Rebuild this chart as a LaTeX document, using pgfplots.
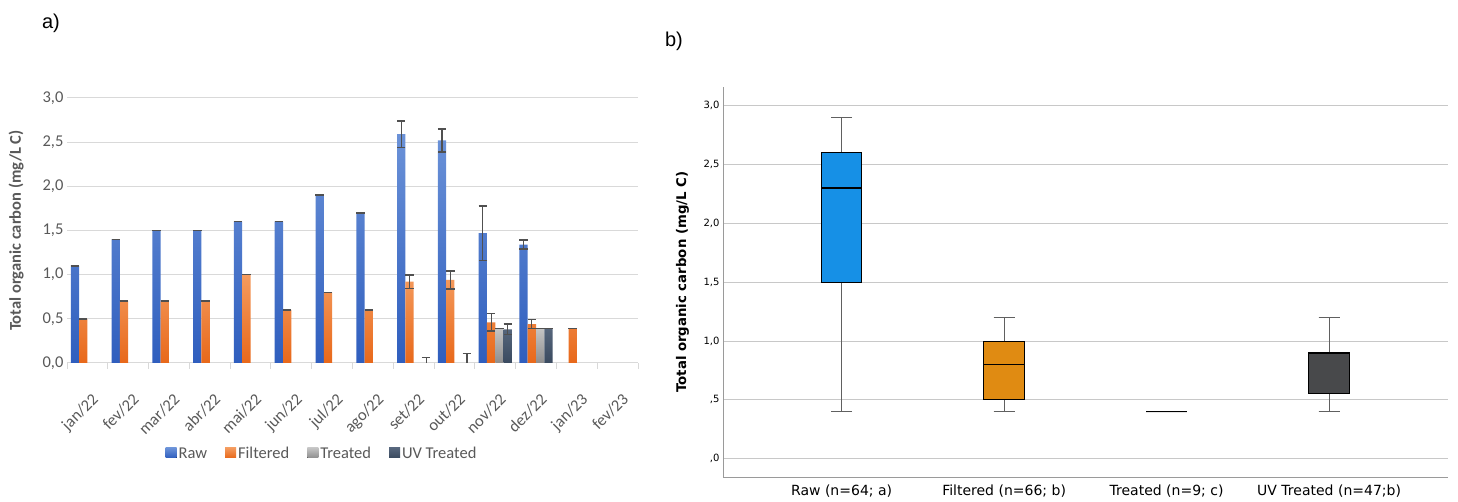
\documentclass[border=0pt]{standalone}
\usepackage{fontspec}
\setmainfont{Liberation Sans}
\newfontfamily\carlito{Carlito}
\newfontfamily\dejavu{DejaVu Sans}
\usepackage{pgfplots}
\pgfplotsset{compat=1.18}
\usepgfplotslibrary{statistics}
\definecolor{rawT}{HTML}{6B92D8}
\definecolor{rawB}{HTML}{2F5EBE}
\definecolor{filT}{HTML}{F49B5E}
\definecolor{filB}{HTML}{E8681A}
\definecolor{treT}{HTML}{C4C4C4}
\definecolor{treB}{HTML}{8E8E8E}
\definecolor{uvT}{HTML}{56667C}
\definecolor{uvB}{HTML}{3A4A5F}
\definecolor{gridc}{HTML}{D9D9D9}
\definecolor{tickc}{HTML}{595959}
\definecolor{errc}{HTML}{505050}
\definecolor{gridr}{HTML}{C8C8C8}
\definecolor{axr}{HTML}{9A9A9A}
\definecolor{rawbox}{HTML}{1690E6}
\definecolor{filbox}{HTML}{E08B12}
\definecolor{uvbox}{HTML}{48494B}
\definecolor{whisk}{HTML}{606060}
\begin{document}
\begin{tikzpicture}
\useasboundingbox (0pt,0pt) rectangle (1458pt,502pt);
\node[font=\fontsize{20}{24}\selectfont] at (51pt,479pt) {a)};
\node[font=\fontsize{20}{24}\selectfont] at (674pt,461pt) {b)};
\begin{axis}[
  at={(67pt,139pt)}, anchor=south west, scale only axis,
  width=571pt, height=265pt,
  xmin=-0.5, xmax=13.5, ymin=0, ymax=3,
  axis x line=bottom, axis y line=left,
  axis line style={-, draw=gridc, line width=1pt},
  y axis line style={draw=none},
  xtick={0,...,13},
  xticklabels={jan/22,fev/22,mar/22,abr/22,mai/22,jun/22,jul/22,ago/22,set/22,out/22,nov/22,dez/22,jan/23,fev/23},
  minor xtick={-0.5,0.5,...,13.5},
  major tick length=0pt, minor tick length=6pt, tick align=outside,
  minor tick style={draw=gridc, line width=1pt},
  ytick={0,0.5,1,1.5,2,2.5,3},
  yticklabels={{0,0},{0,5},{1,0},{1,5},{2,0},{2,5},{3,0}},
  yticklabel style={font=\carlito\fontsize{16.5}{19}\selectfont, text=tickc},
  xticklabel style={font=\carlito\fontsize{16.5}{19}\selectfont, text=tickc, rotate=45, anchor=north east, inner sep=0pt, xshift=-18pt, yshift=-23pt},
  ymajorgrids, grid style={draw=gridc, line width=1pt},
  ylabel={\textbf{Total organic carbon (mg/L C)}},
  ylabel style={font=\carlito\fontsize{16.5}{19}\selectfont, text=tickc, at={(axis description cs:-0.089,0.5)}, anchor=center},
  ybar, bar width=8.3pt,
  error bars/y dir=both, error bars/y explicit,
  error bars/error bar style={line width=1.2pt, draw=errc},
  error bars/error mark options={rotate=90, mark size=4.2pt, line width=1.5pt, draw=errc},
  legend columns=4,
  legend style={at={(0.4466,-0.343)}, anchor=center, draw=none, font=\carlito\fontsize{16.5}{19}\selectfont, text=tickc,
    /tikz/every even column/.append style={column sep=16pt}},
  legend image code/.code={\fill[#1] (0pt,-4pt) rectangle (11pt,6pt);},
]
\addplot[draw=none, top color=rawT, bottom color=rawB, bar shift=-12.45pt] coordinates {
 (0,1.1) +- (0,0) (1,1.4) +- (0,0) (2,1.5) +- (0,0) (3,1.5) +- (0,0)
 (4,1.6) +- (0,0) (5,1.6) +- (0,0) (6,1.9) +- (0,0) (7,1.7) +- (0,0)
 (8,2.59) +- (0,0.15) (9,2.52) +- (0,0.13) (10,1.47) +- (0,0.31) (11,1.34) +- (0,0.05)
};
\addplot[draw=none, top color=filT, bottom color=filB, bar shift=-4.15pt] coordinates {
 (0,0.5) +- (0,0) (1,0.7) +- (0,0) (2,0.7) +- (0,0) (3,0.7) +- (0,0)
 (4,1.0) +- (0,0) (5,0.6) +- (0,0) (6,0.8) +- (0,0) (7,0.6) +- (0,0)
 (8,0.92) +- (0,0.075) (9,0.94) +- (0,0.1) (10,0.46) +- (0,0.1) (11,0.44) +- (0,0.05) (12,0.39) +- (0,0)
};
\addplot[draw=none, top color=treT, bottom color=treB, bar shift=4.15pt] coordinates {
 (10,0.39) +- (0,0) (11,0.39) +- (0,0)
};
\addplot[draw=none, top color=uvT, bottom color=uvB, bar shift=12.45pt] coordinates {
 (10,0.38) +- (0,0.06) (11,0.39) +- (0,0)
};
\addplot[draw=none, fill=none, bar shift=12.45pt, forget plot, error bars/y dir=plus] coordinates {
 (8,0.001) +- (0,0.06) (9,0.001) +- (0,0.105)
};
\legend{Raw,Filtered,Treated,UV Treated}
\end{axis}
\begin{axis}[
  at={(723pt,24.3pt)}, anchor=south west, scale only axis,
  width=724.7pt, height=391pt,
  xmin=0.27, xmax=4.73, ymin=-0.1615, ymax=3.161,
  axis x line=bottom, axis y line=left,
  axis line style={-, draw=axr, line width=1pt},
  xtick={1,2,3,4},
  xticklabels={Raw (n=64; a),Filtered (n=66; b),Treated (n=9; c),UV Treated (n=47;b)},
  xticklabel style={font=\dejavu\fontsize{14}{16}\selectfont, yshift=-4pt},
  ytick={0,0.5,1,1.5,2,2.5,3},
  yticklabels={{,0},{,5},{1,0},{1,5},{2,0},{2,5},{3,0}},
  yticklabel style={font=\dejavu\fontsize{10}{12}\selectfont},
  major tick length=0pt,
  ymajorgrids, grid style={draw=gridr, line width=1pt},
  ylabel={\textbf{Total organic carbon (mg/L C)}},
  ylabel style={font=\dejavu\fontsize{13.3}{16}\selectfont, at={(axis description cs:-0.0559,0.5)}, anchor=center},
  boxplot/draw direction=y,
  boxplot/every whisker/.style={draw=whisk, line width=1pt},
  boxplot/every box/.style={draw=black, line width=1pt},
  boxplot/every median/.style={draw=black, line width=1.6pt},
]
\addplot[fill=rawbox, boxplot prepared={lower whisker=0.4, lower quartile=1.5, median=2.3, upper quartile=2.6, upper whisker=2.9, box extend=0.25, whisker extend=0.13, draw position=1}] coordinates {};
\addplot[fill=filbox, boxplot prepared={lower whisker=0.4, lower quartile=0.5, median=0.8, upper quartile=1.0, upper whisker=1.2, box extend=0.25, whisker extend=0.13, draw position=2}] coordinates {};
\addplot[fill=uvbox, boxplot prepared={lower whisker=0.4, lower quartile=0.4, median=0.4, upper quartile=0.4, upper whisker=0.4, box extend=0.25, whisker extend=0.13, draw position=3}] coordinates {};
\addplot[fill=uvbox, boxplot prepared={lower whisker=0.4, lower quartile=0.55, median=0.9, upper quartile=0.9, upper whisker=1.2, box extend=0.25, whisker extend=0.13, draw position=4}] coordinates {};
\end{axis}
\end{tikzpicture}
\end{document}
